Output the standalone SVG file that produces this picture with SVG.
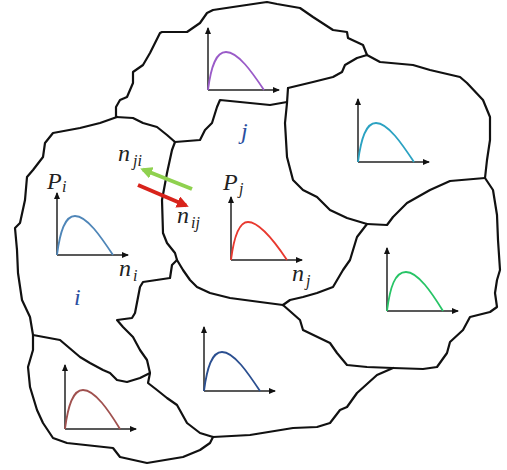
<svg xmlns="http://www.w3.org/2000/svg" width="507" height="470" viewBox="0 0 507 470">
<defs>
<marker id="ah" markerWidth="7" markerHeight="6" refX="6" refY="3" orient="auto" markerUnits="userSpaceOnUse"><path d="M0,0 L7,3 L0,6 Z" fill="#111"/></marker>
<marker id="hg" markerWidth="12" markerHeight="12" refX="9" refY="6" orient="auto" markerUnits="userSpaceOnUse"><path d="M0,0 L12,6 L0,12 Z" fill="#8fd14f"/></marker>
<marker id="hr" markerWidth="12" markerHeight="12" refX="9" refY="6" orient="auto" markerUnits="userSpaceOnUse"><path d="M0,0 L12,6 L0,12 Z" fill="#d8231b"/></marker>
</defs>
<style>
.b{fill:none;stroke:#111;stroke-width:2.2;stroke-linejoin:round;stroke-linecap:round}
.ax{fill:none;stroke:#222;stroke-width:1.5;marker-end:url(#ah)}
.cv{fill:none;stroke-width:1.8}
.t{font-family:"Liberation Serif",serif;font-style:italic;fill:#222}
.lab{font-family:"Liberation Serif",serif;font-style:italic;fill:#2b4fa0;font-size:24px}
</style>
<rect width="507" height="470" fill="#fff"/>
<g id="boundaries">
<path class="b" d="M116,117 L116,107 L120,100 L127,97 L133,83 L133,72 L143,65 L150,53 L155,43 L160,33 L162,32 L187,32 L200,23 L207,13 L213,10 L233,7 L260,3 L267,2 L277,4 L300,8 L313,17 L333,30 L347,32 L348,38 L363,45 L367,55"/>
<path class="b" d="M367,55 L380,62 L413,65 L430,70 L460,77 L467,83 L483,100 L490,117 L490,140 L487,160 L485,178"/>
<path class="b" d="M485,178 L493,190 L497,215 L498,240 L500,270 L497,280 L495,293 L497,307 L490,312 L470,317 L463,330 L450,342 L447,353 L437,367 L423,369 L393,368"/>
<path class="b" d="M485,178 L450,181 L430,190 L407,203 L393,217 L387,225 L367,224"/>
<path class="b" d="M288,88 L287,103 L285,123 L287,157 L293,180 L303,190 L317,197 L323,203 L330,210 L347,218 L367,224"/>
<path class="b" d="M288,88 L313,82 L333,77 L342,72 L345,65 L357,58 L367,55"/>
<path class="b" d="M116,117 L133,118 L143,123 L157,127 L167,135 L175,142"/>
<path class="b" d="M175,142 L200,140 L205,130 L212,123 L217,107 L220,100 L250,103 L270,105 L287,102"/>
<path class="b" d="M175,142 L172,150 L167,173 L162,200 L163,233 L167,243 L175,253 L177,260"/>
<path class="b" d="M177,260 L183,270 L190,280 L197,287 L210,293 L230,298 L260,302 L283,305"/>
<path class="b" d="M283,305 L290,300 L303,297 L317,293 L333,287 L343,270 L350,260 L357,237 L367,224"/>
<path class="b" d="M283,305 L300,320 L303,330 L330,343 L337,353 L347,365 L367,367 L393,368"/>
<path class="b" d="M393,368 L377,375 L357,393 L347,407 L340,410 L330,423 L317,427 L293,428 L250,435 L213,437"/>
<path class="b" d="M213,437 L210,443 L200,450 L183,457 L147,463 L120,457 L113,448 L67,443 L53,438 L43,423 L37,410 L30,387 L28,367 L33,350 L33,335"/>
<path class="b" d="M33,335 L30,317 L22,300 L18,273 L17,250 L15,228 L20,223 L25,200 L27,177 L33,170 L43,157 L45,143 L53,133 L80,128 L100,123 L117,117"/>
<path class="b" d="M177,260 L172,265 L170,278 L143,282 L140,287 L135,313 L132,318 L117,320 L123,327 L133,337 L140,350 L147,360 L150,373"/>
<path class="b" d="M33,335 L60,340 L80,357 L90,363 L103,370 L110,373 L117,380 L127,382 L140,378 L150,373"/>
<path class="b" d="M150,373 L148,383 L157,390 L167,398 L177,405 L187,423 L200,433 L213,437"/>
</g>
<g id="cell-top" transform="translate(208,90)">
<path class="ax" d="M0,0 V-62"/><path class="ax" d="M0,0 H71"/>
<path class="cv" stroke="#9a5bc8" d="M0,0 C3,-24 8,-38 18,-38 C30,-38 44,-18 56,0"/>
</g>
<g id="cell-topright" transform="translate(358,162)">
<path class="ax" d="M0,0 V-63"/><path class="ax" d="M0,0 H71"/>
<path class="cv" stroke="#2ba2c2" d="M0,0 C3,-24 8,-39 18,-39 C30,-39 44,-18 56,0"/>
</g>
<g id="cell-i">
<g transform="translate(57,255)">
<path class="ax" d="M0,0 V-62"/><path class="ax" d="M0,0 H71"/>
<path class="cv" stroke="#4f86b8" d="M0,0 C3,-24 8,-39 18,-39 C30,-39 44,-18 56,0"/>
</g>
<text class="t" x="47" y="189" font-size="24">P</text><text class="t" x="62" y="192" font-size="16">i</text>
<text class="t" x="119" y="276" font-size="24">n</text><text class="t" x="133" y="281" font-size="16">i</text>
<text class="lab" x="74" y="305">i</text>
</g>
<g id="cell-j">
<g transform="translate(231,260)">
<path class="ax" d="M0,0 V-63"/><path class="ax" d="M0,0 H71"/>
<path class="cv" stroke="#e8392f" d="M0,0 C3,-24 8,-38 17,-38 C29,-38 44,-18 56,0"/>
</g>
<text class="t" x="223" y="190" font-size="24">P</text><text class="t" x="239" y="194" font-size="16">j</text>
<text class="t" x="292" y="281" font-size="24">n</text><text class="t" x="306" y="286" font-size="16">j</text>
<text class="lab" x="241" y="139">j</text>
</g>
<g id="cell-green" transform="translate(387,311)">
<path class="ax" d="M0,0 V-63"/><path class="ax" d="M0,0 H71"/>
<path class="cv" stroke="#27c466" d="M0,0 C3,-24 8,-39 19,-39 C31,-39 45,-18 56,0"/>
</g>
<g id="cell-bottom" transform="translate(204,391)">
<path class="ax" d="M0,0 V-64"/><path class="ax" d="M0,0 H71"/>
<path class="cv" stroke="#2b4f90" d="M0,0 C3,-24 8,-39 18,-39 C30,-39 44,-18 56,0"/>
</g>
<g id="cell-bottomleft" transform="translate(65,429)">
<path class="ax" d="M0,0 V-64"/><path class="ax" d="M0,0 H71"/>
<path class="cv" stroke="#a0514f" d="M0,0 C3,-24 8,-39 18,-39 C30,-39 44,-18 55,0"/>
</g>
<g id="connectors">
<line x1="192" y1="189" x2="143" y2="169.5" stroke="#8fd14f" stroke-width="4" marker-end="url(#hg)"/>
<line x1="138" y1="185" x2="186" y2="205.5" stroke="#d8231b" stroke-width="4" marker-end="url(#hr)"/>
<text class="t" x="118" y="161" font-size="24">n</text><text class="t" x="133" y="166" font-size="16">ji</text>
<text class="t" x="177" y="223" font-size="24">n</text><text class="t" x="191" y="228" font-size="16">ij</text>
</g>
</svg>
